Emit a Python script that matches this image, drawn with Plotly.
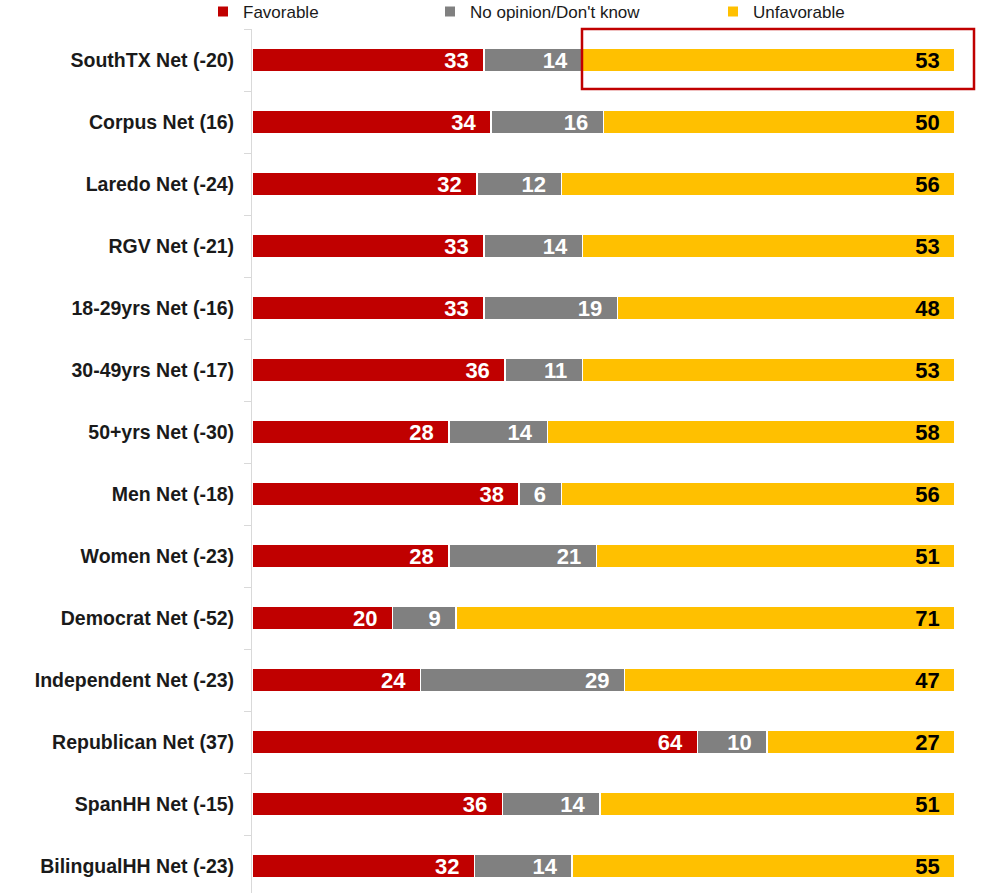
import plotly.graph_objects as go

categories = ["SouthTX Net (-20)", "Corpus Net (16)", "Laredo Net (-24)", "RGV Net (-21)",
              "18-29yrs Net (-16)", "30-49yrs Net (-17)", "50+yrs Net (-30)", "Men Net (-18)",
              "Women Net (-23)", "Democrat Net (-52)", "Independent Net (-23)",
              "Republican Net (37)", "SpanHH Net (-15)", "BilingualHH Net (-23)"]
favorable = [33, 34, 32, 33, 33, 36, 28, 38, 28, 20, 24, 64, 36, 32]
no_opinion = [14, 16, 12, 14, 19, 11, 14, 6, 21, 9, 29, 10, 14, 14]
unfavorable = [53, 50, 56, 53, 48, 53, 58, 56, 51, 71, 47, 27, 51, 55]

series = [
    ("Favorable", favorable, "#C00000", "white", "legend"),
    ("No opinion/Don't know", no_opinion, "#808080", "white", "legend2"),
    ("Unfavorable", unfavorable, "#FFC000", "black", "legend3"),
]

W, H = 997, 893
L, R, T, B = 252, 42, 29, 0
pw = W - L - R
ph = H - T - B

fig = go.Figure()
for name, vals, color, tcolor, leg in series:
    fig.add_trace(go.Bar(
        y=categories, x=vals, name=name, orientation="h",
        marker=dict(color=color, line=dict(color="white", width=1.5)),
        text=vals, texttemplate="%{text}\u00a0\u00a0", textposition="inside",
        insidetextanchor="end", textangle=0,
        textfont=dict(family="Liberation Sans", size=22, color=tcolor, weight="bold"),
        width=0.39, legend=leg, hoverinfo="skip",
    ))

def px2paper_x(px):
    return (px - L) / pw

def px2paper_y(py):
    return (H - B - py) / ph

leg_common = dict(orientation="h", yanchor="middle", xanchor="left",
                  font=dict(family="Liberation Sans", size=17, color="#1a1a1a"),
                  bgcolor="rgba(0,0,0,0)", itemwidth=30, tracegroupgap=0,
                  itemsizing="constant")

fig.update_layout(
    width=W, height=H,
    margin=dict(l=L, r=R, t=T, b=B, autoexpand=False),
    barmode="stack", barnorm="percent",
    plot_bgcolor="white", paper_bgcolor="white",
    font=dict(family="Liberation Sans"),
    uniformtext=dict(minsize=22, mode="show"),
    xaxis=dict(range=[0, 100], visible=False, fixedrange=True),
    yaxis=dict(categoryorder="array", categoryarray=categories,
               range=[13.435, -0.5], automargin=False,
               showline=True, linecolor="#d9d9d9", linewidth=1,
               ticks="outside", ticklen=7, tickcolor="#d9d9d9", tickwidth=1,
               tickson="boundaries", showgrid=False, zeroline=False,
               tickfont=dict(family="Liberation Sans", size=19.5, color="#1a1a1a", weight="bold"),
               ticklabelstandoff=13),
    legend=dict(x=px2paper_x(203), y=px2paper_y(12), **leg_common),
    legend2=dict(x=px2paper_x(430), y=px2paper_y(12), **leg_common),
    legend3=dict(x=px2paper_x(713), y=px2paper_y(12), **leg_common),
    showlegend=True,
    shapes=[dict(type="rect", xref="paper", yref="paper",
                 x0=px2paper_x(582), x1=px2paper_x(974),
                 y0=px2paper_y(89), y1=px2paper_y(29),
                 line=dict(color="#C00000", width=2.5), fillcolor="rgba(0,0,0,0)")],
)

fig.write_html("out.html", config={"displayModeBar": False},
               post_script="document.body.style.margin='0';document.body.style.padding='0';")
